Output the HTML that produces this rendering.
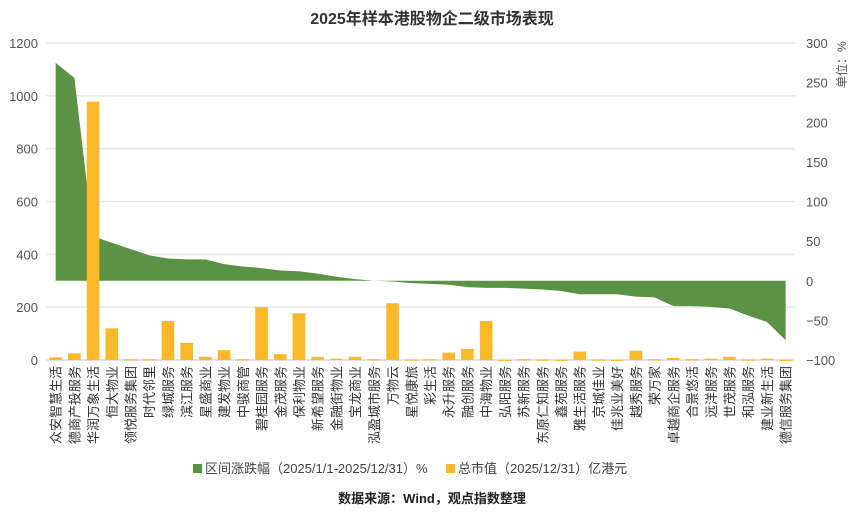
<!DOCTYPE html>
<html><head><meta charset="utf-8">
<style>
body{margin:0;background:#fff;width:865px;height:516px;overflow:hidden;font-family:"Liberation Sans","Noto Sans CJK SC",sans-serif;}
svg text{font-family:"Liberation Sans","Noto Sans CJK SC",sans-serif;}
</style></head>
<body>
<svg id="chart" width="865" height="516">
<text x="432" y="24" text-anchor="middle" font-size="16" font-weight="bold" fill="#333">2025年样本港股物企二级市场表现</text>
<g id="grid"></g><g id="area"></g><g id="bars"></g><g id="axes"></g>
<text transform="translate(846,88) rotate(-90)" font-size="12" fill="#555">单位：%</text>
<rect x="193" y="464" width="9" height="9" fill="#5B9244"/>
<text x="205" y="473" font-size="13" fill="#444">区间涨跌幅（2025/1/1-2025/12/31）%</text>
<rect x="446" y="464" width="9" height="9" fill="#FDB827"/>
<text x="458" y="473" font-size="13" fill="#444">总市值（2025/12/31）亿港元</text>
<text x="432" y="503" text-anchor="middle" font-size="13" font-weight="bold" fill="#222">数据来源：Wind，观点指数整理</text>
</svg>
<script>
const categories=["众安智慧生活","德商产投服务","华润万象生活","恒大物业","领悦服务集团","时代邻里","绿城服务","滨江服务","星盛商业","建发物业","中骏商管","碧桂园服务","金茂服务","保利物业","新希望服务","金融街物业","宝龙商业","泓盈城市服务","万物云","星悦康旅","彩生活","永升服务","融创服务","中海物业","弘阳服务","苏新服务","东原仁知服务","鑫苑服务","雅生活服务","京城佳业","佳兆业美好","越秀服务","荣万家","卓越商企服务","合景悠活","远洋服务","世茂服务","和泓服务","建业新生活","德信服务集团"];
const changePct=[275,256,56,48,40,32,28,27,27,21,18,16,13,12,9,5,2,0,-1,-3,-4,-5,-8,-9,-9,-10,-11,-13,-17,-17,-17,-20,-21,-32,-32,-33,-35,-44,-52,-75];
const marketCap=[10,25,978,120,3,3,148,65,12,37,3,200,22,177,12,5,12,3,215,2,3,28,42,148,1,3,2,1,32,2,1,35,3,8,3,5,12,2,5,1];
const leftTicks=[0,200,400,600,800,1000,1200];
const rightTicks=[-100,-50,0,50,100,150,200,250,300];
const NS="http://www.w3.org/2000/svg";
const X0=46.3,X1=795,band=(X1-X0)/categories.length;
const xC=i=>X0+band*(i+0.5);
const yL=v=>360-v*(317/1200);
const yR=v=>360-(v+100)*(317/400);
function mk(tag,attrs,parent,txt){const e=document.createElementNS(NS,tag);for(const k in attrs)e.setAttribute(k,attrs[k]);if(txt!==undefined)e.textContent=txt;document.getElementById(parent).appendChild(e);return e;}
leftTicks.forEach(t=>{
 const l=mk('line',{x1:X0,x2:X1,y1:yL(t),y2:yL(t),stroke:t===0?'#d9d9d9':'#e6e6e6','stroke-width':1.5},'grid');
 
 
 const tx=mk('text',{x:38,y:yL(t)+5,'text-anchor':'end','font-size':13,fill:'#555'},'axes',String(t));
 
 
});
rightTicks.forEach(t=>{
 const tx=mk('text',{x:806,y:yR(t)+5,'font-size':13,fill:'#555'},'axes',t<0?'−'+Math.abs(t):String(t));
 
 
});
let d='M'+xC(0)+','+yR(0);
changePct.forEach((v,i)=>{d+=' L'+xC(i)+','+yR(v);});
d+=' L'+xC(changePct.length-1)+','+yR(0)+' Z';
const a=mk('path',{d:d,fill:'#5B9244'},'area');


marketCap.forEach((v,i)=>{
 const b=mk('rect',{x:xC(i)-6.3,y:yL(v),width:12.6,height:Math.max(360-yL(v),1.2),fill:'#FDB827'},'bars');
 
 
});
categories.forEach((c,i)=>{
 const tx=mk('text',{transform:'translate('+(xC(i)+5)+',366) rotate(-90)','text-anchor':'end','font-size':13,fill:'#333'},'axes',c);
 
 
});
</script>
</body></html>
